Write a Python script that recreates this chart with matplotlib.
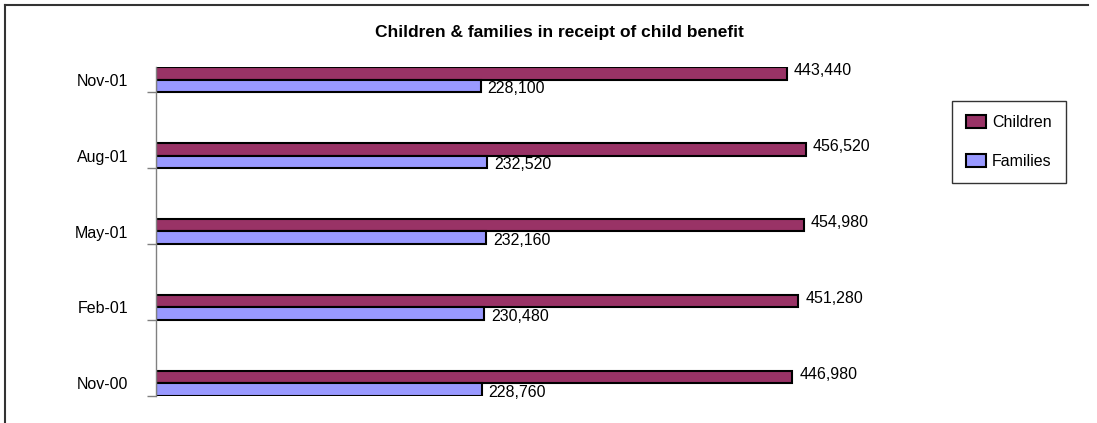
import numpy as np
import matplotlib.pyplot as plt
from matplotlib.lines import Line2D

plt.rcParams['font.family'] = ['Liberation Sans', 'DejaVu Sans']

# data
months = ['Nov-00', 'Feb-01', 'May-01', 'Aug-01', 'Nov-01']
children = [446980, 451280, 454980, 456520, 443440]
families = [228760, 230480, 232160, 232520, 228100]

fig = plt.figure(figsize=(10.97, 4.23), dpi=100)
ax = fig.add_axes([156 / 1097, 27 / 423, 854 / 1097, 329 / 423])

y = np.arange(len(months))
h = 0.165
ax.barh(y + h / 2, children, height=h, color='#993366', edgecolor='black',
        linewidth=1.5, label='Children')
ax.barh(y - h / 2, families, height=h, color='#9999FF', edgecolor='black',
        linewidth=1.5, label='Families')

# value labels next to bar ends
for yi, c, f in zip(y, children, families):
    ax.annotate(f'{c:,}', (c, yi + h / 2), xytext=(5, 2), textcoords='offset points',
                va='center', ha='left', fontsize=11.5)
    ax.annotate(f'{f:,}', (f, yi - h / 2), xytext=(5, -2), textcoords='offset points',
                va='center', ha='left', fontsize=11.5)

ax.set_xlim(0, 600000)
ax.set_ylim(-h, len(months) - 1 + h)

ax.set_yticks(y)
ax.set_yticklabels(months, fontsize=11.5)
ax.tick_params(axis='y', which='major', length=0, pad=20)
ax.set_yticks(y - h, minor=True)
ax.tick_params(axis='y', which='minor', length=6.5, color='#808080', width=1)
ax.xaxis.set_visible(False)
for s in ['top', 'right', 'bottom']:
    ax.spines[s].set_visible(False)
ax.spines['left'].set_color('#808080')
ax.spines['left'].set_linewidth(1)

fig.text(559 / 1097, 1 - 32 / 423, 'Children & families in receipt of child benefit',
         ha='center', va='center', fontsize=12.5, fontweight='bold')

leg = fig.legend(loc='center', bbox_to_anchor=(1009 / 1097, 1 - 142 / 423),
                 fontsize=11.5, frameon=True, fancybox=False, edgecolor='black',
                 handlelength=1.2, handleheight=0.8, handletextpad=0.4,
                 labelspacing=1.5, borderpad=0.9, borderaxespad=0)
leg.get_frame().set_linewidth(1)

# outer chart border (top and left visible in the reference)
fig.add_artist(Line2D([5 / 1097, 5 / 1097], [0, 1 - 5 / 423], color='#333333',
                      linewidth=1.5, transform=fig.transFigure))
fig.add_artist(Line2D([5 / 1097, 1088 / 1097], [1 - 5 / 423, 1 - 5 / 423],
                      color='#333333', linewidth=1.5, transform=fig.transFigure))

fig.savefig('out.png', dpi=100)
